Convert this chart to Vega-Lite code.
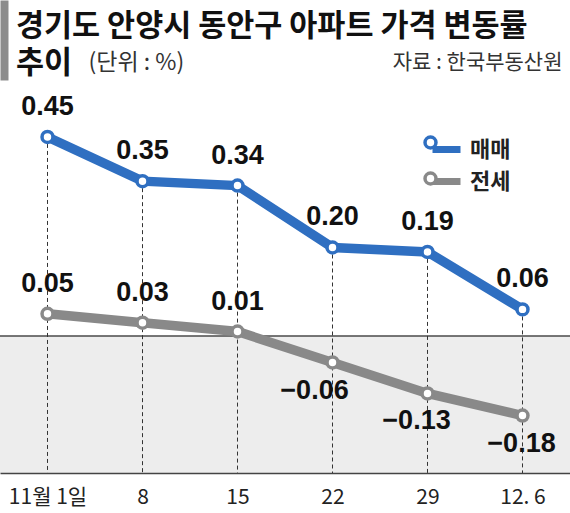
{
  "$schema": "https://vega.github.io/schema/vega-lite/v6.json",
  "width": 570,
  "height": 367,
  "autosize": {"type": "none"},
  "padding": {"top": 106, "left": 0, "right": 0, "bottom": 40},
  "background": "white",
  "title": {
    "text": ["경기도 안양시 동안구 아파트 가격 변동률", "추이"],
    "anchor": "start",
    "frame": "group",
    "font": "Noto Sans CJK KR",
    "fontSize": 30.5,
    "fontWeight": "bold",
    "color": "#111111",
    "lineHeight": 37,
    "offset": 0,
    "dx": 16,
    "dy": 28
  },
  "data": {
    "values": [
      {"date": "11월 1일", "type": "매매", "value": 0.45},
      {"date": "8", "type": "매매", "value": 0.35},
      {"date": "15", "type": "매매", "value": 0.34},
      {"date": "22", "type": "매매", "value": 0.20},
      {"date": "29", "type": "매매", "value": 0.19},
      {"date": "12. 6", "type": "매매", "value": 0.06},
      {"date": "11월 1일", "type": "전세", "value": 0.05},
      {"date": "8", "type": "전세", "value": 0.03},
      {"date": "15", "type": "전세", "value": 0.01},
      {"date": "22", "type": "전세", "value": -0.06},
      {"date": "29", "type": "전세", "value": -0.13},
      {"date": "12. 6", "type": "전세", "value": -0.18}
    ]
  },
  "encoding": {
    "x": {
      "field": "date",
      "type": "ordinal",
      "sort": ["11월 1일", "8", "15", "22", "29", "12. 6"],
      "scale": {"type": "point", "padding": 0.5},
      "axis": {
        "title": null,
        "labelAngle": 0,
        "labelFont": "Noto Sans CJK KR",
        "labelFontSize": 21,
        "labelColor": "#222222",
        "labelPadding": 13,
        "ticks": false,
        "grid": false,
        "domainColor": "#444444",
        "domainWidth": 1.5,
        "zindex": 1
      }
    },
    "y": {
      "field": "value",
      "type": "quantitative",
      "scale": {"domain": [-0.31, 0.52], "nice": false, "zero": false},
      "axis": null
    }
  },
  "layer": [
    {
      "transform": [{"filter": "datum.date == '8' && datum.type == '매매'"}],
      "mark": {"type": "rect", "fill": "#ededed"},
      "encoding": {
        "x": null,
        "y": {"datum": 0, "type": "quantitative", "scale": {"domain": [-0.31, 0.52], "nice": false, "zero": false}, "axis": null},
        "y2": {"datum": -0.31}
      }
    },
    {
      "transform": [{"filter": "datum.date == '8' && datum.type == '매매'"}],
      "mark": {"type": "rule", "color": "#4a4a4a", "strokeWidth": 1.5},
      "encoding": {
        "x": null,
        "y": {"datum": 0, "type": "quantitative", "scale": {"domain": [-0.31, 0.52], "nice": false, "zero": false}, "axis": null}
      }
    },
    {
      "transform": [{"filter": "datum.type == '매매'"}],
      "mark": {"type": "rule", "color": "#333333", "strokeWidth": 1, "strokeDash": [4, 3]},
      "encoding": {
        "y2": {"datum": -0.31}
      }
    },
    {
      "mark": {"type": "line", "strokeWidth": 9.5},
      "encoding": {
        "color": {
          "field": "type",
          "type": "nominal",
          "scale": {"domain": ["매매", "전세"], "range": ["#2f6fc1", "#898989"]},
          "legend": {
            "title": null,
            "orient": "none",
            "legendX": 429,
            "legendY": 26,
            "symbolType": "stroke",
            "symbolSize": 784,
            "symbolStrokeWidth": 7,
            "labelFont": "Noto Sans CJK KR",
            "labelFontSize": 22,
            "labelFontWeight": "bold",
            "labelColor": "#222222",
            "labelOffset": 6,
            "rowPadding": 0
          }
        }
      }
    },
    {
      "mark": {"type": "point", "shape": "circle", "filled": true, "fill": "white", "size": 120, "strokeWidth": 3.5, "opacity": 1},
      "encoding": {
        "y": {
          "field": "value",
          "type": "quantitative",
          "scale": {"domain": [-0.31, 0.52], "nice": false, "zero": false},
          "axis": {
            "orient": "right",
            "labels": false,
            "ticks": false,
            "domain": false,
            "grid": false,
            "title": "자료 : 한국부동산원",
            "titleAngle": 0,
            "titleAlign": "right",
            "titleBaseline": "middle",
            "titleX": -8,
            "titleY": -44,
            "titleFont": "Noto Sans CJK KR",
            "titleFontSize": 21,
            "titleFontWeight": "normal",
            "titleColor": "#333333"
          }
        },
        "stroke": {
          "field": "type",
          "type": "nominal",
          "scale": {"domain": ["매매", "전세"], "range": ["#2f6fc1", "#898989"]},
          "legend": {
            "title": null,
            "orient": "none",
            "legendX": 420,
            "legendY": 26,
            "symbolType": "circle",
            "symbolSize": 120,
            "symbolStrokeWidth": 3.5,
            "symbolFillColor": "white",
            "labelFont": "Noto Sans CJK KR",
            "labelFontSize": 21,
            "labelOpacity": 0,
            "rowPadding": 11
          }
        }
      }
    },
    {
      "transform": [{"filter": "datum.value >= 0"}],
      "mark": {"type": "text", "dy": -30, "font": "Liberation Sans", "fontSize": 27, "fontWeight": "bold", "color": "#111111", "baseline": "middle"},
      "encoding": {
        "text": {"field": "value", "type": "quantitative", "format": ".2f"}
      }
    },
    {
      "transform": [{"filter": "datum.value == -0.06"}],
      "mark": {"type": "text", "dy": 29, "dx": -18, "font": "Liberation Sans", "fontSize": 27, "fontWeight": "bold", "color": "#111111", "baseline": "middle"},
      "encoding": {
        "text": {"field": "value", "type": "quantitative", "format": ".2f"}
      }
    },
    {
      "transform": [{"filter": "datum.value == -0.13"}],
      "mark": {"type": "text", "dy": 28, "dx": -11, "font": "Liberation Sans", "fontSize": 27, "fontWeight": "bold", "color": "#111111", "baseline": "middle"},
      "encoding": {
        "text": {"field": "value", "type": "quantitative", "format": ".2f"}
      }
    },
    {
      "transform": [{"filter": "datum.value == -0.18"}],
      "mark": {"type": "text", "dy": 28, "dx": -1, "font": "Liberation Sans", "fontSize": 27, "fontWeight": "bold", "color": "#111111", "baseline": "middle"},
      "encoding": {
        "text": {"field": "value", "type": "quantitative", "format": ".2f"}
      }
    },
    {
      "data": {"values": [{}]},
      "mark": {"type": "rule", "opacity": 0},
      "encoding": {
        "x": null,
        "y": {
          "datum": 0,
          "type": "quantitative",
          "scale": {"domain": [0, 1], "range": [-26, -106]},
          "axis": {
            "orient": "left",
            "offset": -4,
            "domain": true,
            "domainColor": "#8c8c8c",
            "domainWidth": 8,
            "labels": false,
            "ticks": false,
            "grid": false,
            "title": "(단위 : %)",
            "titleAngle": 0,
            "titleAlign": "left",
            "titleBaseline": "middle",
            "titleX": 84,
            "titleY": -44,
            "titleFont": "Noto Sans CJK KR",
            "titleFontSize": 23,
            "titleFontWeight": "normal",
            "titleColor": "#333333"
          }
        }
      }
    }
  ],
  "resolve": {
    "scale": {"y": "independent"},
    "axis": {"y": "independent"},
    "legend": {"color": "independent", "stroke": "independent"}
  },
  "config": {
    "view": {"stroke": null},
    "text": {"font": "Liberation Sans"}
  }
}
